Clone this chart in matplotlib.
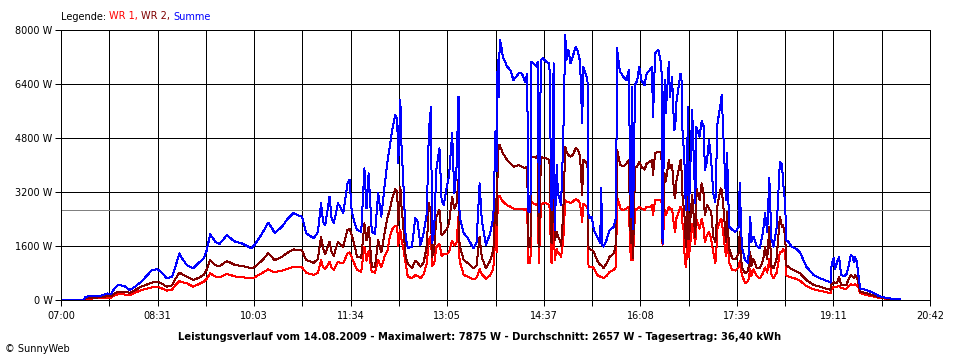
import numpy as np
import matplotlib
matplotlib.use("Agg")
import matplotlib.pyplot as plt

# Leistungsverlauf 14.08.2009 - werte aus dem bild abgelesen
# zeit in minuten ab 07:00
minute = [
    0, 22, 23, 30, 35, 40, 44, 47, 50, 54,
    60, 65, 70, 76, 81, 86, 91, 96, 100, 105,
    108, 112, 115, 119, 125, 130, 135, 138, 141, 143,
    146, 150, 154, 157, 161, 165, 170, 174, 180, 183,
    185, 190, 196, 199, 202, 205, 209, 214, 220, 224,
    228, 232, 239, 243, 246, 248, 250, 254, 256, 258,
    262, 265, 267, 271, 273, 275, 277, 280, 284, 287,
    289, 291, 294, 297, 300, 303, 306, 309, 311, 313,
    316, 318, 319, 321, 322, 324, 326, 328, 332, 335,
    337, 340, 343, 346, 348, 350, 351, 353, 355, 358,
    360, 362, 365, 367, 370, 372, 374, 376, 377, 381,
    385, 390, 393, 396, 398, 402, 406, 409, 411, 412,
    413, 414, 415, 416, 418, 422, 425, 428, 433, 436,
    439, 441, 442, 444, 445, 447, 450, 451, 452, 454,
    456, 459, 462, 464, 466, 467, 469, 470, 472, 473,
    475, 477, 478, 480, 482, 484, 487, 489, 491, 493,
    494, 496, 498, 499, 502, 504, 507, 510, 511, 512,
    513, 516, 519, 523, 525, 526, 528, 529, 532, 535,
    537, 539, 540, 541, 543, 545, 547, 549, 552, 554,
    557, 559, 560, 562, 565, 567, 568, 569, 571, 572,
    575, 576, 578, 580, 581, 582, 586, 587, 588, 589,
    590, 591, 592, 593, 594, 597, 600, 601, 604, 606,
    608, 609, 611, 613, 615, 617, 619, 620, 621, 624,
    625, 627, 629, 630, 632, 635, 638, 641, 642, 644,
    647, 650, 652, 653, 655, 658, 661, 664, 666, 668,
    670, 672, 674, 677, 680, 682, 683, 685, 686, 688,
    691, 696, 699, 705, 712, 718, 726, 728, 729, 731,
    732, 734, 736, 738, 741, 743, 745, 747, 749, 750,
    751, 753, 754, 756, 762, 768, 774, 779, 787, 794,
]

summe = [
    0, 0, 80, 110, 90, 130, 180, 150, 300, 430,
    400, 280, 380, 530, 700, 875, 900, 780, 630, 680,
    950, 1370, 1200, 1020, 925, 1080, 1220, 1470, 1935, 1850,
    1715, 1650, 1800, 1915, 1800, 1715, 1680, 1620, 1520, 1620,
    1715, 1950, 2280, 2150, 1980, 2050, 2160, 2380, 2575, 2500,
    2460, 1965, 1815, 2000, 2855, 2300, 2210, 3050, 2400, 2260,
    2855, 2700, 2560, 3450, 3550, 2600, 2360, 2065, 2010, 3895,
    2700, 3745, 2010, 1950, 3150, 2460, 3350, 4140, 4535, 4980,
    5475, 5380, 4040, 5920, 4635, 3350, 1865, 1520, 1570, 2410,
    2360, 1620, 1965, 2560, 5030, 5725, 1670, 2065, 3845, 4490,
    2955, 2800, 3350, 3650, 4935, 3150, 3800, 6025, 2460, 1965,
    1815, 1520, 1670, 3450, 2360, 1620, 1965, 2460, 5000, 3800,
    7110, 6000, 7700, 7600, 7205, 6910, 6810, 6515, 6710, 6710,
    6465, 6700, 2610, 2610, 7060, 7010, 6910, 7060, 2610, 7110,
    7160, 7060, 7010, 2655, 7010, 2065, 4000, 3150, 2955, 2800,
    4635, 7860, 7110, 7410, 7010, 7205, 7505, 7355, 7060, 5230,
    6900, 6710, 6560, 2410, 2460, 2065, 1865, 1670, 3300, 1620,
    1570, 1765, 2065, 2160, 2460, 7455, 6910, 6760, 6610, 6510,
    6810, 2460, 6300, 2100, 6365, 6500, 6910, 6510, 6365, 6710,
    6810, 6910, 5430, 7310, 7410, 7110, 6900, 1650, 6515, 5530,
    7060, 6000, 6610, 5030, 5100, 5825, 6710, 6500, 4835, 4535,
    3845, 2655, 3300, 5725, 2655, 5625, 2855, 5130, 4835, 5300,
    5130, 3845, 4100, 4740, 4140, 3150, 2900, 4140, 5230, 5825,
    6070, 4535, 2955, 4340, 2160, 2065, 2010, 2160, 3450, 1570,
    1170, 1075, 2460, 1700, 1865, 1600, 1520, 2000, 2560, 2000,
    3600, 1800, 1570, 2160, 4090, 4000, 3500, 2855, 1765, 1715,
    1570, 1490, 1400, 975, 725, 630, 530, 500, 1075, 1220,
    900, 1100, 1270, 725, 700, 750, 1000, 1320, 1270, 1100,
    1270, 1100, 780, 330, 280, 200, 100, 60, 15, 0,
]

wr2 = [
    0, 0, 40, 50, 60, 60, 110, 90, 170, 230,
    230, 200, 280, 380, 440, 500, 530, 460, 380, 420,
    600, 800, 740, 680, 580, 640, 730, 900, 1170, 1100,
    1020, 990, 1080, 1140, 1080, 1020, 1000, 975, 925, 960,
    1020, 1150, 1370, 1280, 1170, 1210, 1270, 1380, 1490, 1470,
    1450, 1170, 1090, 1200, 1865, 1500, 1350, 1715, 1400, 1300,
    1715, 1620, 1570, 2065, 2100, 1900, 1700, 1270, 1240, 2260,
    1750, 2160, 975, 960, 1765, 1400, 1965, 2460, 2655, 2955,
    3270, 3200, 2200, 3350, 2800, 2065, 1270, 1075, 925, 1150,
    1100, 975, 1100, 1570, 2855, 2560, 1270, 1470, 2460, 2655,
    1900, 1965, 2100, 2260, 3050, 2700, 2800, 3550, 1600, 1170,
    1075, 925, 1000, 1865, 1250, 925, 1150, 1470, 3000, 2200,
    3800, 4590, 4590, 4500, 4340, 4140, 4040, 3940, 3990, 3940,
    3895, 3950, 1570, 1570, 4240, 4240, 4190, 4290, 1570, 4240,
    4190, 4190, 4140, 1670, 4440, 1765, 2000, 1870, 1765, 1600,
    2500, 4535, 4390, 4290, 4240, 4290, 4490, 4440, 4240, 3100,
    4150, 4090, 3990, 1520, 1470, 1420, 1170, 1020, 1020, 1000,
    925, 1075, 1270, 1370, 1670, 4440, 4140, 3995, 3950, 4040,
    4140, 1670, 3950, 1220, 3900, 3950, 4090, 3940, 3850, 4040,
    4090, 4140, 3700, 4340, 4390, 4390, 4200, 1650, 3745, 3500,
    4140, 3900, 4000, 3150, 3000, 3500, 4140, 3800, 3000, 2755,
    2400, 1570, 1900, 3550, 1800, 3100, 1850, 3300, 2955, 3450,
    3100, 2500, 2800, 2700, 2600, 1865, 1700, 2200, 2800, 3300,
    3250, 2600, 1700, 2600, 1500, 1220, 1200, 1370, 2000, 950,
    780, 850, 1400, 1000, 1200, 950, 925, 1150, 1570, 1200,
    2160, 1000, 925, 1220, 2460, 2160, 2200, 1900, 1020, 975,
    900, 825, 780, 580, 430, 380, 300, 290, 480, 510,
    480, 500, 680, 430, 430, 440, 600, 725, 680, 650,
    725, 650, 530, 230, 185, 120, 70, 40, 0, 0,
]

wr1 = [
    0, 0, 20, 30, 30, 40, 60, 50, 110, 160,
    150, 130, 200, 280, 320, 360, 380, 320, 260, 290,
    420, 550, 510, 480, 380, 450, 530, 620, 780, 740,
    680, 660, 720, 760, 720, 680, 670, 650, 630, 650,
    700, 780, 895, 850, 805, 830, 855, 910, 975, 960,
    950, 795, 730, 800, 1170, 950, 900, 1120, 950, 880,
    1120, 1080, 1075, 1370, 1400, 1250, 1100, 875, 825, 1570,
    1150, 1450, 810, 800, 1170, 950, 1270, 1470, 1865, 2065,
    2190, 2160, 1600, 2065, 1800, 1470, 1075, 680, 630, 720,
    700, 640, 740, 1075, 1765, 1900, 1000, 1050, 1550, 1650,
    1300, 1350, 1350, 1400, 1750, 1600, 1650, 2460, 1150, 725,
    680, 595, 640, 900, 750, 620, 720, 920, 2300, 1400,
    2700, 3080, 3080, 3000, 2905, 2800, 2755, 2700, 2700, 2700,
    2655, 2700, 1075, 1075, 2900, 2855, 2800, 2850, 1075, 2800,
    2855, 2850, 2800, 1075, 2855, 1170, 1500, 1400, 1320, 1270,
    1700, 2955, 2900, 2900, 2855, 2900, 2985, 2950, 2855, 2300,
    2850, 2800, 2750, 975, 975, 930, 730, 680, 680, 660,
    630, 700, 825, 875, 975, 3050, 2850, 2700, 2650, 2700,
    2750, 1170, 2650, 1170, 2650, 2700, 2750, 2700, 2650, 2750,
    2750, 2800, 2500, 2950, 2955, 2955, 2900, 1620, 2650, 2500,
    2750, 2700, 2700, 2160, 2000, 2400, 2755, 2700, 2200, 2065,
    1170, 975, 1300, 2500, 1250, 2250, 1650, 2400, 2100, 2400,
    2100, 1700, 1900, 2000, 1800, 1400, 1075, 1500, 2100, 2400,
    2350, 1800, 1300, 1965, 1100, 875, 860, 950, 1150, 750,
    480, 550, 900, 700, 900, 700, 630, 780, 950, 800,
    1200, 750, 630, 800, 1400, 1400, 1500, 1400, 725, 680,
    650, 610, 560, 400, 300, 260, 200, 190, 330, 370,
    360, 380, 400, 340, 320, 320, 400, 450, 440, 430,
    450, 420, 380, 185, 135, 90, 50, 30, 0, 0,
]

durchschnitt = 2657
x_labels = ["07:00", "", "08:31", "", "10:03", "", "11:34", "", "13:05", "",
            "14:37", "", "16:08", "", "17:39", "", "19:11", "", "20:42"]
y_ticks = [0, 1600, 3200, 4800, 6400, 8000]
titel = ("Leistungsverlauf vom 14.08.2009 - Maximalwert: 7875 W - "
         "Durchschnitt: 2657 W - Tagesertrag: 36,40 kWh")

RED = "#ff0000"
DARKRED = "#800000"
BLUE = "#0000ff"
LW = 0.72  # 1 pixel

fig = plt.figure(figsize=(9.6, 3.6), dpi=100)
W, H = 960, 360
ax = fig.add_axes([61 / W, 1 - 299.5 / H, (930 - 61) / W, (299.5 - 30) / H])

ax.plot(minute, wr1, color=RED, lw=LW, antialiased=False)
ax.plot(minute, wr2, color=DARKRED, lw=LW, antialiased=False)
ax.plot(minute, summe, color=BLUE, lw=LW, antialiased=False)
ax.axhline(durchschnitt, color="#808080", lw=LW, zorder=1.5, antialiased=False)

ax.set_xlim(0, 822)
ax.set_ylim(0, 8000)
ax.set_xticks(np.linspace(0, 822, 19))
ax.set_xticklabels(x_labels)
ax.set_yticks(y_ticks)
ax.set_yticklabels([f"{v} W" for v in y_ticks])
ax.grid(True, color="black", lw=LW, antialiased=False)
ax.set_axisbelow(True)
ax.tick_params(direction="out", length=4, width=LW, color="black",
               labelsize=7, pad=2)
ax.tick_params(axis="x", pad=4)
for s in ax.spines.values():
    s.set_color("black")
    s.set_linewidth(LW)
    s.set_antialiased(False)

# legende oben links, mehrfarbig
renderer = fig.canvas.get_renderer()
x = 61 / W
y = 1 - 16.5 / H
for txt, col in [("Legende: ", "black"), ("WR 1, ", RED), ("WR 2, ", DARKRED), ("Summe", BLUE)]:
    t = fig.text(x, y, txt, color=col, fontsize=7, va="center", ha="left")
    bb = t.get_window_extent(renderer)
    x = bb.x1 / W

fig.text(479.5 / W, 1 - 336.5 / H, titel, ha="center", va="center",
         fontsize=7.2, fontweight="bold")
fig.text(5 / W, 1 - 349 / H, "\u00a9 SunnyWeb", ha="left", va="center", fontsize=7)

fig.savefig("out.png", dpi=100, facecolor="white")
